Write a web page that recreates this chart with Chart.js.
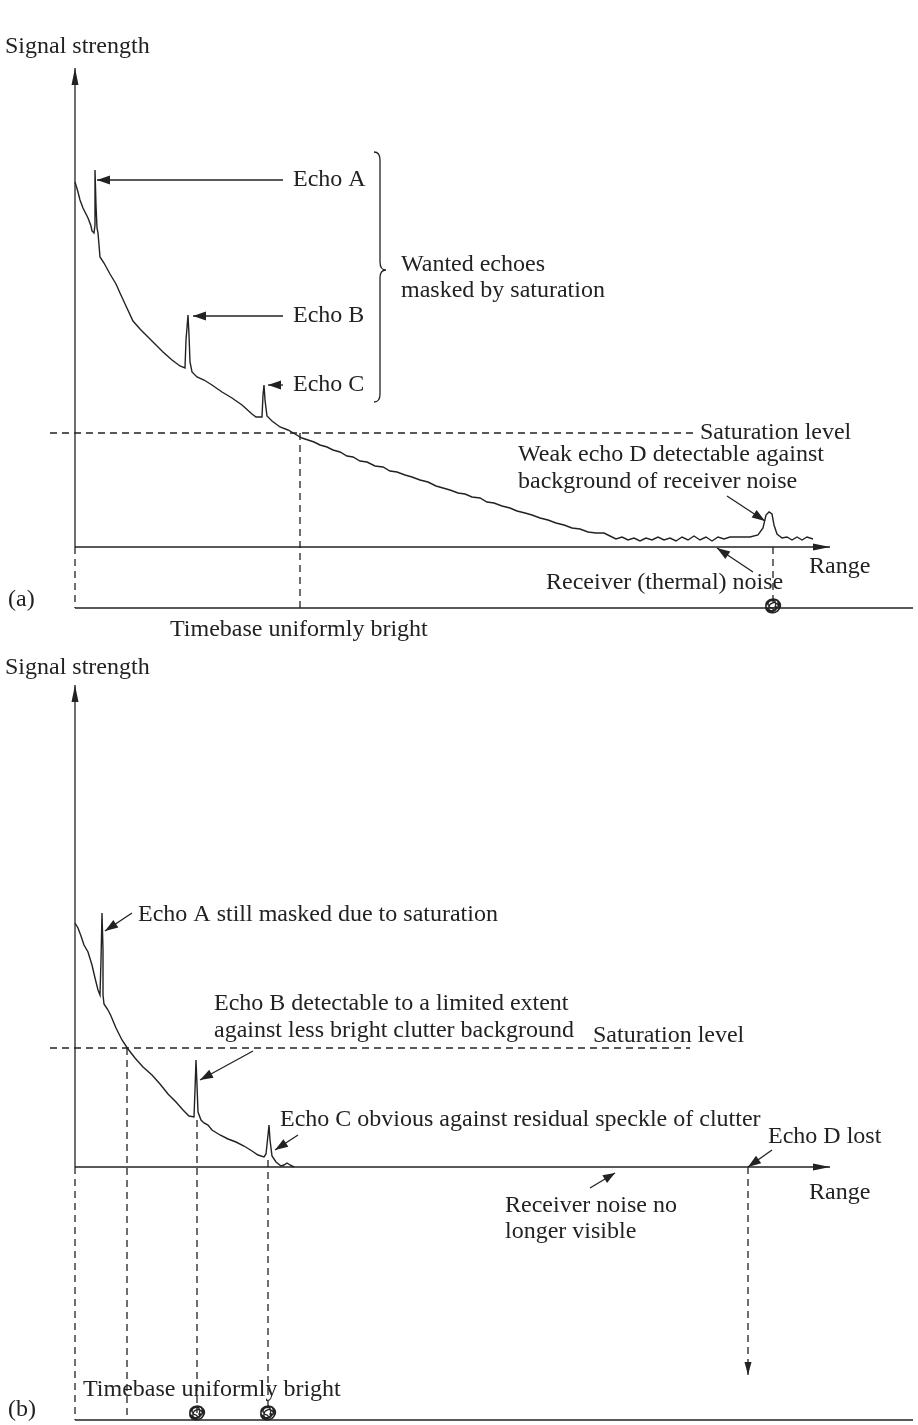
<!DOCTYPE html>
<html>
<head>
<meta charset="utf-8">
<script src="https://cdn.jsdelivr.net/npm/chart.js@4.4.1/dist/chart.umd.min.js"></script>
<style>
  body { margin: 0; background: #fff; }
  canvas { position: absolute; left: 0; }
  #top { top: 0; }
  #bottom { top: 645px; }
</style>
</head>
<body>
<canvas id="top" width="918" height="645"></canvas>
<canvas id="bottom" width="918" height="780"></canvas>
<script>
// (a) signal vs range, arbitrary units
const topRange = [0, 3, 5, 8, 13, 16, 17, 19, 20, 20, 21, 22, 23, 24, 25, 29, 35, 41, 45, 51, 58, 65, 72, 80, 88, 97, 105, 110,
  111, 113, 114, 115, 117, 122, 129, 137, 147, 157, 167, 177, 181, 187, 188, 189, 190, 192, 197, 205, 213, 220, 227, 233, 239,
  245, 252, 258, 265, 272, 278, 285, 292, 300, 308, 315, 322, 330, 337, 345, 353, 361, 368, 375, 383, 390, 397, 405, 412, 419,
  427, 435, 442, 450, 457, 465, 473, 481, 489, 497, 505, 513, 521, 529, 535, 541, 547, 553, 559, 565, 571, 577, 583, 589, 595,
  601, 607, 613, 619, 625, 631, 637, 643, 649, 655, 665, 675, 683, 688, 691, 694, 697, 699, 702, 707, 712, 717, 722, 727, 732, 738];
const topSignal = [365, 355, 347, 339, 329, 321, 316, 314, 322, 377, 342, 319, 314, 302, 290, 284, 273, 263, 254, 241, 226, 218, 211, 203, 195, 187, 181, 179,
  207, 232, 212, 185, 175, 170, 167, 162, 155, 149, 142, 133, 130, 130, 152, 162, 147, 131, 126, 120, 117, 113, 109, 107, 105,
  102, 100, 97, 95, 91, 90, 86, 85, 81, 80, 76, 75, 72, 70, 67, 65, 61, 59, 57, 54, 53, 50, 49, 45, 44,
  41, 39, 36, 34, 32, 29, 27, 24, 22, 19, 18, 15, 14, 14, 11, 8, 10, 7, 9, 6, 9, 7, 10, 7, 9,
  6, 10, 7, 11, 7, 10, 6, 10, 8, 10, 10, 10, 12, 19, 32, 35, 33, 22, 13, 9, 10, 7, 10, 7, 10, 8];

// (b) after clutter suppression
const bottomRange = [0, 3, 6, 9, 13, 17, 20, 23, 25, 26, 27, 28, 28, 29, 33, 36, 41, 47, 53, 60, 68, 77, 85, 93, 101, 108, 114,
  119, 120, 121, 122, 123, 126, 129, 133, 137, 145, 153, 161, 169, 177, 183, 189, 191, 193, 194, 195, 197, 201, 206, 209, 212, 215, 219];
const bottomSignal = [244, 239, 231, 222, 215, 202, 189, 177, 172, 207, 254, 217, 172, 163, 157, 151, 139, 127, 118, 109, 100, 92, 83, 73, 65, 57, 51,
  50, 77, 107, 82, 55, 47, 44, 42, 37, 32, 28, 25, 21, 16, 12, 10, 13, 32, 42, 27, 11, 5, 1, 2, 4, 2, 0];

const INK = "#222";
const FONT = '24px "Liberation Serif", "DejaVu Serif", serif';

function pairs(xs, ys) {
  return xs.map((x, i) => ({ x: x, y: ys[i] }));
}

function arrowHead(ctx, x1, y1, x2, y2, len, half) {
  const a = Math.atan2(y2 - y1, x2 - x1);
  ctx.beginPath();
  ctx.moveTo(x2, y2);
  ctx.lineTo(x2 - len * Math.cos(a) + half * Math.sin(a), y2 - len * Math.sin(a) - half * Math.cos(a));
  ctx.lineTo(x2 - len * Math.cos(a) - half * Math.sin(a), y2 - len * Math.sin(a) + half * Math.cos(a));
  ctx.closePath();
  ctx.fill();
}

// draws annotations in data units through the chart's own scales
function makeDrawer(chart) {
  const ctx = chart.ctx;
  const X = (v) => chart.scales.x.getPixelForValue(v);
  const Y = (v) => chart.scales.y.getPixelForValue(v);
  return {
    line(x1, y1, x2, y2, dash) {
      ctx.save();
      ctx.strokeStyle = INK;
      ctx.lineWidth = 1.3;
      ctx.setLineDash(dash ? [7, 5] : []);
      ctx.beginPath();
      ctx.moveTo(X(x1), Y(y1));
      ctx.lineTo(X(x2), Y(y2));
      ctx.stroke();
      ctx.restore();
    },
    arrow(x1, y1, x2, y2, len, half, dash) {
      this.line(x1, y1, x2, y2, dash);
      ctx.save();
      ctx.fillStyle = INK;
      arrowHead(ctx, X(x1), Y(y1), X(x2), Y(y2), len || 13, half || 4.5);
      ctx.restore();
    },
    text(s, x, y) {
      ctx.save();
      ctx.fillStyle = INK;
      ctx.font = FONT;
      ctx.textBaseline = "middle";
      ctx.textAlign = "left";
      ctx.fillText(s, X(x), Y(y));
      ctx.restore();
    },
    scribble(x, y) {
      // the little hand-drawn blob where a dashed line meets the timebase
      const cx = X(x), cy = Y(y) - 2;
      ctx.save();
      ctx.strokeStyle = INK;
      ctx.lineWidth = 1.3;
      ctx.beginPath();
      for (let t = 0; t <= 10 * Math.PI; t += 0.15) {
        const r = 2.5 + 4.5 * Math.abs(Math.sin(t * 0.37));
        const px = cx + r * Math.cos(t) + 0.8 * Math.sin(t * 1.7);
        const py = cy + r * Math.sin(t);
        if (t === 0) ctx.moveTo(px, py); else ctx.lineTo(px, py);
      }
      ctx.stroke();
      ctx.restore();
    },
    brace(x, top, mid, bottom) {
      const bx = X(x), t = Y(top), m = Y(mid), b = Y(bottom), w = 6;
      ctx.save();
      ctx.strokeStyle = INK;
      ctx.lineWidth = 1.3;
      ctx.beginPath();
      ctx.moveTo(bx - w, t);
      ctx.quadraticCurveTo(bx, t, bx, t + w + 2);
      ctx.lineTo(bx, m - w - 2);
      ctx.quadraticCurveTo(bx, m, bx + w, m);
      ctx.quadraticCurveTo(bx, m, bx, m + w + 2);
      ctx.lineTo(bx, b - w - 2);
      ctx.quadraticCurveTo(bx, b, bx - w, b);
      ctx.stroke();
      ctx.restore();
    }
  };
}

const topNotes = {
  id: "topNotes",
  afterDatasetsDraw(chart) {
    const d = makeDrawer(chart);
    d.arrow(0, 0, 0, 479, 17, 3.5);
    d.arrow(0, 0, 755, 0, 17, 3.5);
    d.line(0, -61, 838, -61);
    d.line(0, 0, 0, -61, true);
    d.line(225, 114, 225, -61, true);
    d.line(698, 0, 698, -61, true);
    d.line(-25, 114, 620, 114, true);
    d.scribble(698, -61);

    d.arrow(208, 367, 22, 367);
    d.arrow(208, 231, 118, 231);
    d.arrow(208, 162, 193, 162);
    d.text("Echo A", 218, 367);
    d.text("Echo B", 218, 231);
    d.text("Echo C", 218, 162);
    d.brace(305, 395, 277, 145);
    d.text("Wanted echoes", 326, 282);
    d.text("masked by saturation", 326, 256);
    d.text("Saturation level", 625, 114);
    d.text("Weak echo D detectable against", 443, 92);
    d.text("background of receiver noise", 443, 65);
    d.arrow(652, 51, 690, 26);
    d.text("Receiver (thermal) noise", 471, -36);
    d.arrow(678, -25, 642, -1);
    d.text("Range", 734, -20);
    d.text("(a)", -67, -53);
    d.text("Timebase uniformly bright", 95, -83);
    d.text("Signal strength", -70, 500);
  }
};

const bottomNotes = {
  id: "bottomNotes",
  afterDatasetsDraw(chart) {
    const d = makeDrawer(chart);
    d.arrow(0, 0, 0, 482, 17, 3.5);
    d.arrow(0, 0, 755, 0, 17, 3.5);
    d.line(0, -253, 838, -253);
    d.line(0, 0, 0, -253, true);
    d.line(52, 119, 52, -253, true);
    d.line(122, 47, 122, -246, true);
    d.line(193, 7, 193, -245, true);
    d.arrow(673, 0, 673, -208, 13, 3.5, true);
    d.line(-25, 119, 615, 119, true);
    d.scribble(122, -248);
    d.scribble(193, -248);

    d.text("Echo A still masked due to saturation", 63, 252);
    d.arrow(57, 254, 30, 236);
    d.text("Echo B detectable to a limited extent", 139, 163);
    d.text("against less bright clutter background", 139, 136);
    d.arrow(178, 116, 125, 87);
    d.text("Saturation level", 518, 131);
    d.text("Echo C obvious against residual speckle of clutter", 205, 47);
    d.arrow(223, 32, 200, 17);
    d.text("Echo D lost", 693, 30);
    d.arrow(697, 17, 673, 0);
    d.text("Range", 734, -26);
    d.text("Receiver noise no", 430, -39);
    d.text("longer visible", 430, -65);
    d.arrow(515, -21, 540, -6, 12, 4.5);
    d.text("Timebase uniformly bright", 8, -223);
    d.text("(b)", -67, -243);
    d.text("Signal strength", -70, 499);
  }
};

function makeChart(id, xs, ys, yMax, pad, notes) {
  return new Chart(document.getElementById(id).getContext("2d"), {
    type: "scatter",
    data: {
      datasets: [{
        data: pairs(xs, ys),
        showLine: true,
        pointRadius: 0,
        borderColor: INK,
        borderWidth: 1.4,
        tension: 0,
        clip: false
      }]
    },
    options: {
      responsive: false,
      animation: false,
      devicePixelRatio: 1,
      layout: { padding: pad },
      scales: {
        x: { type: "linear", min: 0, max: 755, display: false },
        y: { type: "linear", min: 0, max: yMax, display: false }
      },
      plugins: { legend: { display: false }, tooltip: { enabled: false } }
    },
    plugins: [notes]
  });
}

makeChart("top", topRange, topSignal, 472, { left: 75, right: 88, top: 75, bottom: 98 }, topNotes);
makeChart("bottom", bottomRange, bottomSignal, 507, { left: 75, right: 88, top: 15, bottom: 258 }, bottomNotes);
</script>
</body>
</html>
